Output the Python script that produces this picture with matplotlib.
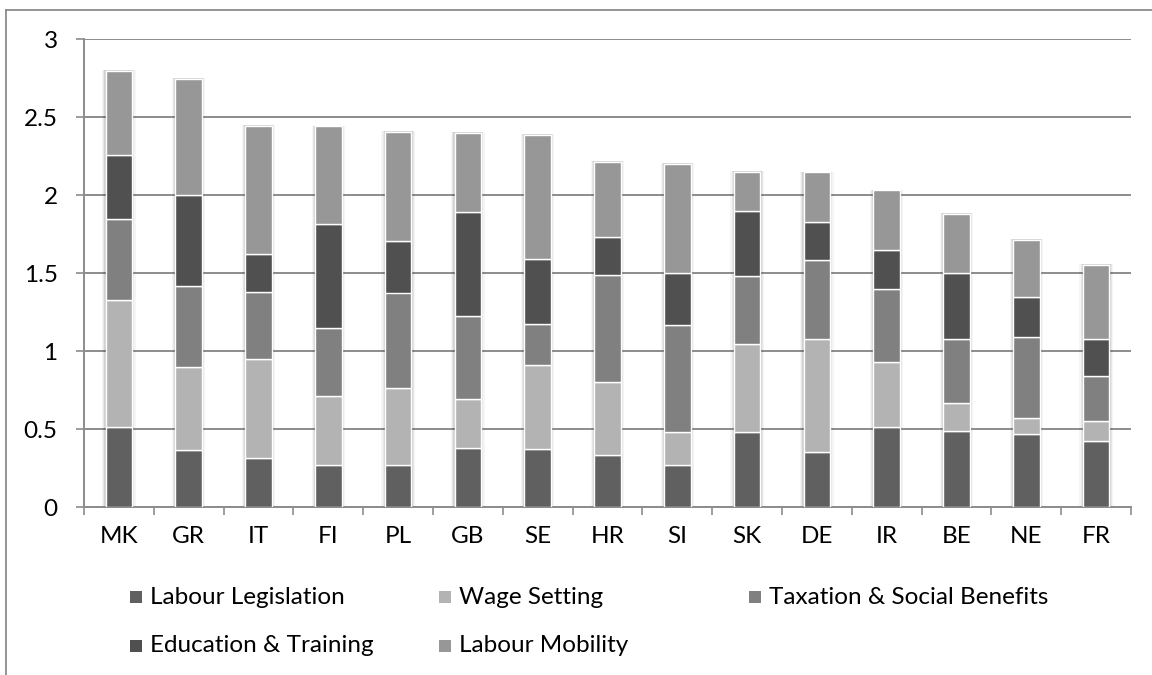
import numpy as np
import matplotlib
matplotlib.use('Agg')
import matplotlib.pyplot as plt
from matplotlib.patches import Rectangle
from matplotlib.lines import Line2D

countries = ['MK', 'GR', 'IT', 'FI', 'PL', 'GB', 'SE', 'HR', 'SI', 'SK', 'DE', 'IR', 'BE', 'NE', 'FR']
labour_legislation = [0.515, 0.365, 0.315, 0.27, 0.27, 0.38, 0.37, 0.335, 0.27, 0.48, 0.35, 0.51, 0.49, 0.47, 0.42]
wage_setting = [0.815, 0.53, 0.635, 0.44, 0.49, 0.31, 0.54, 0.465, 0.21, 0.565, 0.725, 0.42, 0.175, 0.10, 0.13]
taxation = [0.515, 0.52, 0.43, 0.435, 0.615, 0.535, 0.26, 0.685, 0.685, 0.435, 0.51, 0.465, 0.415, 0.52, 0.29]
education = [0.41, 0.585, 0.245, 0.67, 0.33, 0.665, 0.42, 0.245, 0.335, 0.415, 0.245, 0.25, 0.42, 0.255, 0.24]
mobility = [0.54, 0.745, 0.82, 0.625, 0.70, 0.51, 0.795, 0.48, 0.70, 0.255, 0.315, 0.385, 0.38, 0.365, 0.47]

series = [('Labour Legislation', labour_legislation, '#606060'),
          ('Wage Setting', wage_setting, '#b3b3b3'),
          ('Taxation & Social Benefits', taxation, '#808080'),
          ('Education & Training', education, '#505050'),
          ('Labour Mobility', mobility, '#979797')]

plt.rcParams['font.family'] = ['Lato', 'DejaVu Sans']
grid_col = '#8c8c8c'
W, H = 1152, 675

fig = plt.figure(figsize=(W / 100, H / 100), dpi=100)
ax = fig.add_axes([84 / W, 1 - 507 / H, (1131 - 84) / W, (507 - 39) / H])

x = np.arange(len(countries))
width = 0.38
totals = np.sum([s[1] for s in series], axis=0)

# soft shadow behind each bar
for k, a in [(0.10, 0.04), (0.065, 0.06), (0.035, 0.09)]:
    ax.bar(x, totals + 0.015, width + k, bottom=-0.01, color='#000000', alpha=a, linewidth=0, zorder=2)

bottom = np.zeros(len(countries))
for name, vals, col in series:
    ax.bar(x, vals, width, bottom=bottom, color=col, edgecolor='white', linewidth=1.0, zorder=3)
    bottom += np.array(vals)

ax.set_xlim(-0.5, len(countries) - 0.5)
ax.set_ylim(0, 3)
ax.set_yticks(np.arange(0, 3.01, 0.5))
ax.set_yticklabels(['0', '0.5', '1', '1.5', '2', '2.5', '3'])
ax.yaxis.grid(True, color=grid_col, linewidth=1.4, zorder=0)
ax.set_axisbelow(True)

ax.set_xticks(x)
ax.set_xticklabels(countries)
ax.set_xticks(np.arange(-0.5, len(countries)), minor=True)
ax.tick_params(axis='x', which='major', length=0, pad=14, labelsize=17.5)
ax.tick_params(axis='x', which='minor', length=6, width=1.2, color=grid_col, direction='out')
ax.tick_params(axis='y', length=6, width=1.2, color=grid_col, pad=13, labelsize=17.5)

for side in ['top', 'right']:
    ax.spines[side].set_visible(False)
for side in ['left', 'bottom']:
    ax.spines[side].set_color(grid_col)
    ax.spines[side].set_linewidth(1.4)

# legend laid out like the original (3 columns, row-major)
leg_cols = [130, 439, 749]
leg_rows = [597, 646]
for i, (name, _, col) in enumerate(series):
    lx = leg_cols[i % 3]
    ly = leg_rows[i // 3]
    fig.add_artist(Rectangle((lx / W, 1 - (ly + 6) / H), 12 / W, 12 / H,
                             transform=fig.transFigure, facecolor=col, edgecolor='none'))
    fig.text((lx + 20) / W, 1 - ly / H, name, fontsize=17.5, va='center', ha='left')

# chart area border
fig.add_artist(Line2D([6 / W, 1.0], [1 - 10 / H, 1 - 10 / H], color=grid_col, linewidth=1.3))
fig.add_artist(Line2D([6 / W, 6 / W], [0, 1 - 10 / H], color=grid_col, linewidth=1.3))

fig.savefig('out.png', dpi=100)
